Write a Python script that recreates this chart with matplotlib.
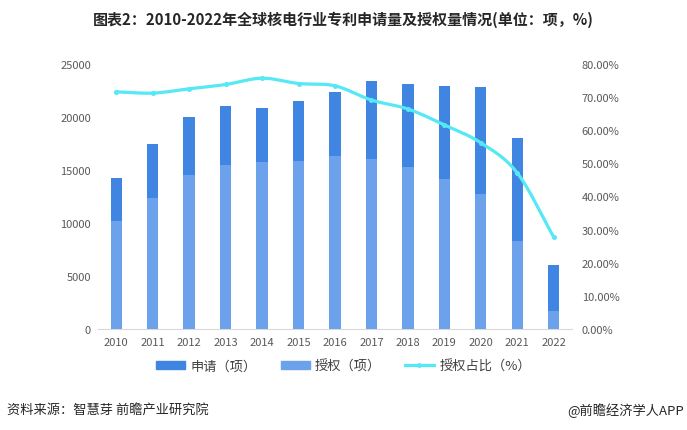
import numpy as np
import matplotlib
matplotlib.use('Agg')
from matplotlib import pyplot as plt
from matplotlib.lines import Line2D
from matplotlib.patches import Patch

plt.rcParams['font.family'] = ['Noto Sans CJK SC', 'DejaVu Sans']

years = ['2010', '2011', '2012', '2013', '2014', '2015', '2016',
         '2017', '2018', '2019', '2020', '2021', '2022']
apply_cnt = [14200, 17450, 20000, 21040, 20850, 21510, 22360,
             23400, 23110, 22920, 22830, 18020, 6040]
grant_cnt = [10200, 12360, 14530, 15470, 15750, 15850, 16320,
             16040, 15280, 14150, 12740, 8300, 1700]
grant_ratio = [71.6, 71.2, 72.5, 73.8, 75.7, 74.1, 73.4,
               69.1, 66.4, 61.6, 56.2, 47.1, 27.7]

c_apply = '#4185e3'
c_grant = '#6ca2ec'
c_ratio = '#55e8f5'
c_tick = '#595959'


def smooth(x, y, n=20):
    # catmull-rom spline through the points, only for drawing the curve
    x = np.asarray(x, float)
    y = np.asarray(y, float)
    px = np.concatenate([[2 * x[0] - x[1]], x, [2 * x[-1] - x[-2]]])
    py = np.concatenate([[2 * y[0] - y[1]], y, [2 * y[-1] - y[-2]]])
    xs, ys = [], []
    t = np.linspace(0, 1, n, endpoint=False)
    for i in range(1, len(px) - 2):
        for arr, out in ((px, xs), (py, ys)):
            p0, p1, p2, p3 = arr[i - 1], arr[i], arr[i + 1], arr[i + 2]
            out.extend(0.5 * ((2 * p1) + (-p0 + p2) * t
                              + (2 * p0 - 5 * p1 + 4 * p2 - p3) * t ** 2
                              + (-p0 + 3 * p1 - 3 * p2 + p3) * t ** 3))
    xs.append(x[-1])
    ys.append(y[-1])
    return np.array(xs), np.array(ys)


fig = plt.figure(figsize=(6.87, 4.31), dpi=100)
ax = fig.add_axes([0.1426, 0.2343, 0.69, 0.615])
x = np.arange(len(years))
w = 0.31
ax.bar(x, apply_cnt, width=w, color=c_apply, zorder=2)
ax.bar(x, grant_cnt, width=w, color=c_grant, zorder=3)
ax.set_xlim(-0.5, len(years) - 0.5)
ax.set_ylim(0, 25000)
ax.set_yticks(range(0, 25001, 5000))
ax.set_xticks(x)
ax.set_xticklabels(years)
for s in ['top', 'right', 'left']:
    ax.spines[s].set_visible(False)
ax.spines['bottom'].set_color('#d9d9d9')
ax.tick_params(axis='both', length=0, labelsize=8, colors=c_tick)
ax.tick_params(axis='x', pad=6)
ax.tick_params(axis='y', pad=5)

ax2 = ax.twinx()
ax2.set_ylim(0, 80)
ax2.set_yticks(range(0, 81, 10))
ax2.set_yticklabels(['{:.2f}%'.format(v) for v in range(0, 81, 10)])
for s in ['top', 'right', 'left', 'bottom']:
    ax2.spines[s].set_visible(False)
ax2.tick_params(axis='y', length=0, labelsize=8, colors=c_tick, pad=7)
sx, sy = smooth(x, grant_ratio)
ax2.plot(sx, sy, color=c_ratio, lw=2.3, solid_capstyle='round', zorder=4)
ax2.plot(x, grant_ratio, linestyle='None', marker='o', ms=2.6,
         color=c_ratio, zorder=5)

handles = [Patch(color=c_apply), Patch(color=c_grant),
           Line2D([0], [0], color=c_ratio, lw=2.3, marker='o', ms=2.5)]
fig.legend(handles, ['申请（项）', '授权（项）', '授权占比（%）'],
           loc='center', bbox_to_anchor=(0.5, 0.148), ncol=3, frameon=False,
           fontsize=9.5, handlelength=2.2, handleheight=0.6, columnspacing=1.8,
           handletextpad=0.4, labelcolor='#404040')

fig.text(0.5, 0.953, '图表2：2010-2022年全球核电行业专利申请量及授权量情况(单位：项，%)',
         ha='center', va='center', fontsize=10.8, fontweight='bold', color='#262626')
fig.text(0.010, 0.048, '资料来源：智慧芽 前瞻产业研究院', ha='left', va='center',
         fontsize=9.5, color='#262626')
fig.text(0.995, 0.048, '@前瞻经济学人APP', ha='right', va='center',
         fontsize=9.5, color='#262626')

fig.savefig('out.png', dpi=100)
